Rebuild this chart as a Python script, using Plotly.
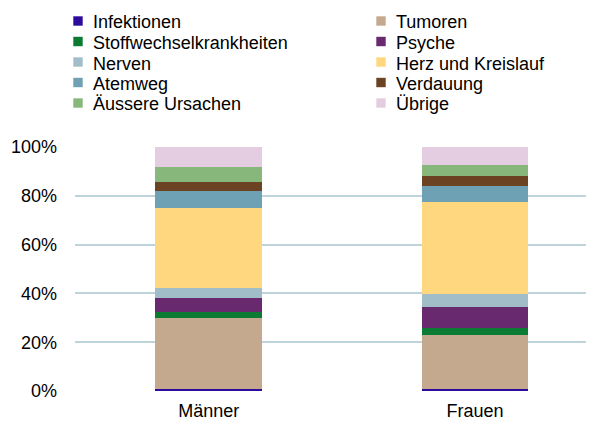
import plotly.graph_objects as go

categories = ["Männer", "Frauen"]
series_names = ["Infektionen", "Tumoren", "Stoffwechselkrankheiten", "Psyche", "Nerven",
                "Herz und Kreislauf", "Atemweg", "Verdauung", "Äussere Ursachen", "Übrige"]
maenner = [1.0, 28.9, 2.6, 5.6, 4.1, 32.6, 7.0, 3.9, 6.1, 8.2]
frauen = [0.8, 22.2, 3.0, 8.4, 5.5, 37.7, 6.6, 4.1, 4.2, 7.5]
colors = ["#2c0c9c", "#c4a98f", "#0b7a32", "#68296e", "#a1bec8",
          "#ffd77f", "#6fa1b4", "#6b4222", "#88b77b", "#e5cde1"]
y_ticks = [0, 20, 40, 60, 80, 100]
y_tick_labels = ["0%", "20%", "40%", "60%", "80%", "100%"]

# The page body adds an 8px margin around the figure
OFF = 8
W, H = 594 - OFF, 421 - OFF
L, R, T, B = 75 - OFF, 0, 147 - OFF, 30
PW, PH = W - L - R, H - T - B


def px_x(x):
    return (x - OFF - L) / PW


def px_y(y):
    return (H - B - (y - OFF)) / PH


fig = go.Figure()
for i, name in enumerate(series_names):
    fig.add_trace(go.Bar(
        x=categories, y=[maenner[i] / 100, frauen[i] / 100], name=name,
        marker=dict(color=colors[i], line=dict(width=0)), width=0.4,
        showlegend=False,
    ))

# Legend drawn as two columns, row-wise order (page pixel positions)
shapes, annotations = [], []
col_x0, col_dx = 73.3, 303
row_y0, row_dy = 21, 20.5
sq = 9.4
for i, name in enumerate(series_names):
    r, c = divmod(i, 2)
    cx = col_x0 + c * col_dx
    cy = row_y0 + r * row_dy
    shapes.append(dict(type="rect", xref="paper", yref="paper",
                       x0=px_x(cx), x1=px_x(cx + sq),
                       y0=px_y(cy + sq / 2), y1=px_y(cy - sq / 2),
                       fillcolor=colors[i], line=dict(width=0)))
    annotations.append(dict(xref="paper", yref="paper", x=px_x(cx + 17.5), y=px_y(cy + 1.5),
                            xanchor="left", yanchor="middle", text=name, showarrow=False,
                            font=dict(size=18, color="#000000")))

fig.update_layout(
    barmode="stack",
    width=W, height=H,
    margin=dict(l=L, r=R, t=T, b=B, autoexpand=False),
    paper_bgcolor="white", plot_bgcolor="white",
    font=dict(family="Arial, Liberation Sans, sans-serif", size=18, color="#000000"),
    showlegend=False,
    shapes=shapes, annotations=annotations,
    xaxis=dict(range=[-0.502, 1.447], showgrid=False, showline=False, ticks="",
               zeroline=False, automargin=False, ticklabelstandoff=7),
    yaxis=dict(range=[0, 1], tickvals=[v / 100 for v in y_ticks], ticktext=y_tick_labels,
               showgrid=True, gridcolor="#bfd3db", gridwidth=2, zeroline=False,
               showline=False, ticks="", ticklabelstandoff=17, automargin=False),
)

fig.write_html("out.html")
